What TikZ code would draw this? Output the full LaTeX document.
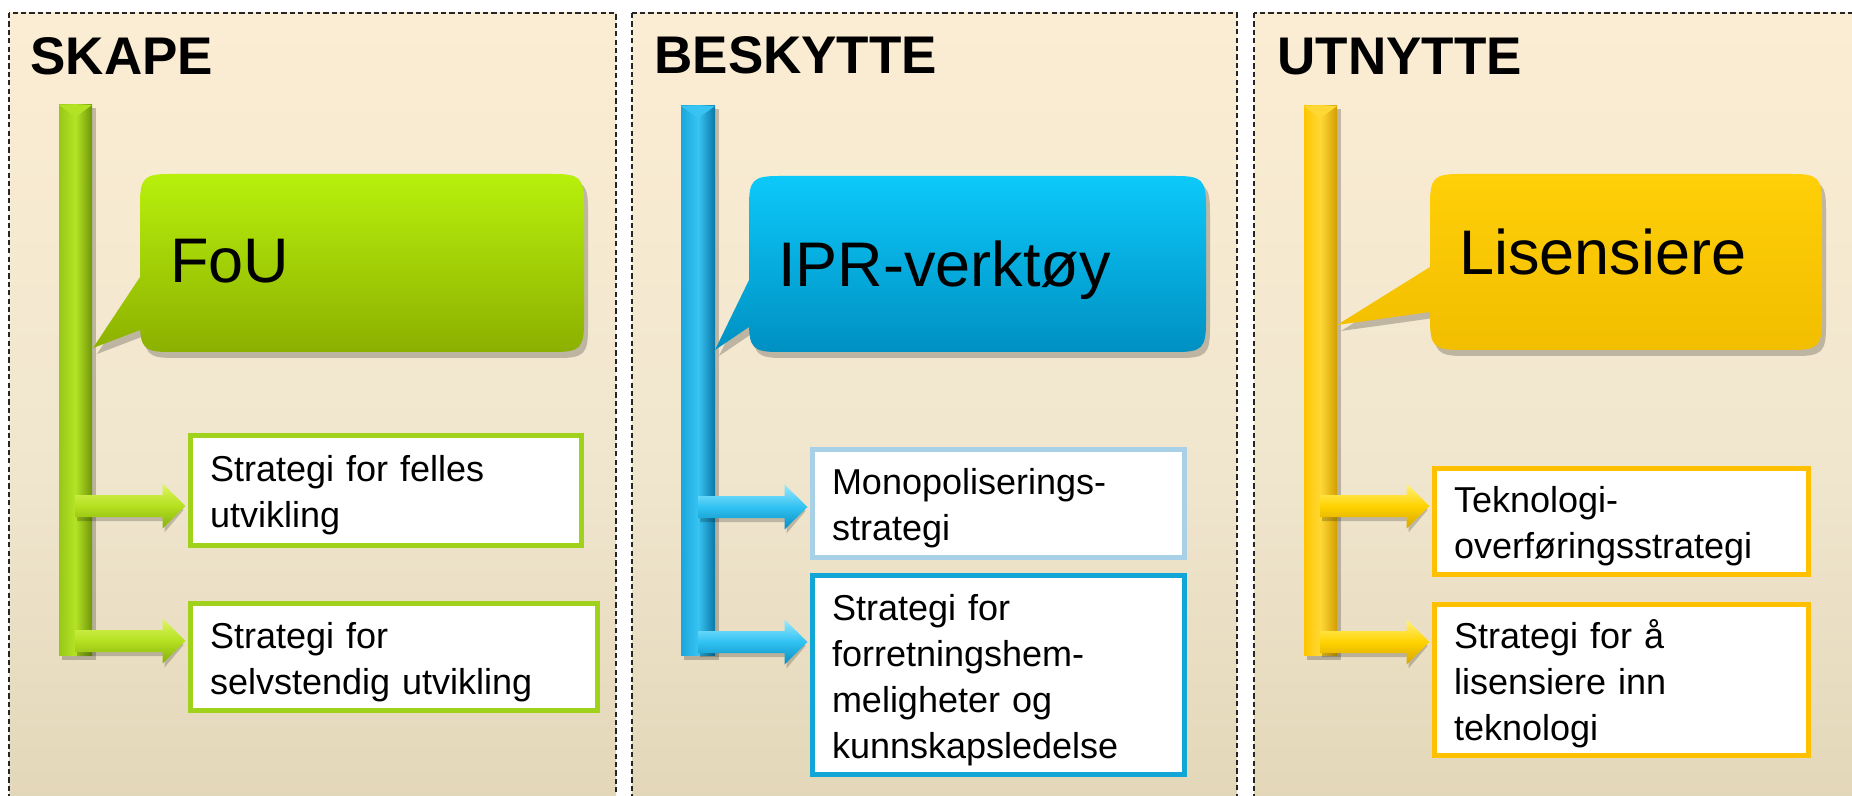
\documentclass[tikz,border=0pt]{standalone}
\usepackage{fontspec}
\setmainfont{Liberation Sans}
\usetikzlibrary{calc}

% panel background
\definecolor{bgA}{HTML}{D0C09B}
\definecolor{bgB}{HTML}{E4D8BA}
\definecolor{bgC}{HTML}{F0E6CE}
\definecolor{bgD}{HTML}{FBEDD3}
\definecolor{bgE}{HTML}{FCEDD2}
\pgfdeclareverticalshading{panelshade}{100bp}{color(0bp)=(bgA); color(28bp)=(bgB); color(47bp)=(bgC); color(75bp)=(bgD); color(100bp)=(bgE)}

% green column
\definecolor{gborder}{HTML}{A0D21C}
\definecolor{gcalltop}{HTML}{B8F00C}
\definecolor{gcallbot}{HTML}{8CB000}
\definecolor{gstemhi}{HTML}{B4E325}
\definecolor{gstemmid}{HTML}{98C817}
\definecolor{gstemlo}{HTML}{6F960A}
\definecolor{garrhi}{HTML}{DDF760}
\definecolor{garrmid}{HTML}{B4E020}
\definecolor{garrlo}{HTML}{86B00C}
% blue column
\definecolor{bborderA}{HTML}{A8D0E6}
\definecolor{bborderB}{HTML}{12A6D6}
\definecolor{bcalltop}{HTML}{0CC9FA}
\definecolor{bcallbot}{HTML}{0090C2}
\definecolor{bstemhi}{HTML}{38C4F2}
\definecolor{bstemmid}{HTML}{1AA6DC}
\definecolor{bstemlo}{HTML}{0A78A8}
\definecolor{barrhi}{HTML}{9AE8FF}
\definecolor{barrmid}{HTML}{30C2F2}
\definecolor{barrlo}{HTML}{0A8CC0}
% yellow column
\definecolor{yborder}{HTML}{FFC000}
\definecolor{ycalltop}{HTML}{FFCF08}
\definecolor{ycallbot}{HTML}{F2BE00}
\definecolor{ystemhi}{HTML}{FFD836}
\definecolor{ystemmid}{HTML}{FFC600}
\definecolor{ystemlo}{HTML}{D29E00}
\definecolor{yarrhi}{HTML}{FFF27A}
\definecolor{yarrmid}{HTML}{FFD200}
\definecolor{yarrlo}{HTML}{D6A600}

\newcommand{\boxfont}{\fontsize{18}{23}\selectfont}

% rounded speech bubble: style, x0, y0, x1, y1, pointer base top, pointer base bottom, tip x, tip y
\newcommand{\drawbubble}[9][]{%
  \path[#1] (#2,#7) -- (#2,{#5-30}) .. controls (#2,{#5-4}) and ({#2+4},#5) .. ({#2+30},#5)
    -- ({#4-30},#5) .. controls ({#4-4},#5) and (#4,{#5-4}) .. (#4,{#5-30})
    -- (#4,{#3+30}) .. controls (#4,{#3+4}) and ({#4-4},#3) .. ({#4-30},#3)
    -- ({#2+30},#3) .. controls ({#2+4},#3) and (#2,{#3+4}) .. (#2,{#3+30})
    -- (#2,#6) -- (#8,#9) -- cycle;}

% vertical stem: x0, x1, top, bottom, colour prefix
\newcommand{\drawstem}[5]{%
  \fill[black,opacity=.22] ({#1+3},{#3+3}) rectangle ({#2+4},{#4+5});
  \path[left color=#5stemmid, right color=#5stemlo, middle color=#5stemhi] (#1,#3) rectangle (#2,#4);
  \fill[#5stemhi] (#1,#3) -- (#2,#3) -- ({(#1+#2)/2},{#3+12}) -- cycle;}

% block arrow from a stem coordinate to a box: start, target node, colour prefix
\newcommand{\blockarrow}[3]{%
  \fill[black,opacity=.2]
    ($(#1)+(2,-7)$) -- ($(#1 -| #2.west)+(-23.5,-7)$) -- ($(#1 -| #2.west)+(-23.5,-18.5)$)
    -- ($(#1 -| #2.west)+(-4.5,4)$) -- ($(#1 -| #2.west)+(-23.5,26.5)$)
    -- ($(#1 -| #2.west)+(-23.5,15)$) -- ($(#1)+(2,15)$) -- cycle;
  \path[top color=#3arrhi, bottom color=#3arrlo, middle color=#3arrmid]
    ($(#1)+(0,-11)$) -- ($(#1 -| #2.west)+(-25.5,-11)$) -- ($(#1 -| #2.west)+(-25.5,-22.5)$)
    -- ($(#1 -| #2.west)+(-2.5,0)$) -- ($(#1 -| #2.west)+(-25.5,22.5)$)
    -- ($(#1 -| #2.west)+(-25.5,11)$) -- ($(#1)+(0,11)$) -- cycle;}

\tikzset{
  panel/.style={shading=panelshade, draw=black!85, line width=0.75pt, dash pattern=on 2.6pt off 1.6pt},
  head/.style={font=\bfseries\fontsize{26.5}{30}\selectfont, inner sep=0pt, anchor=base west},
  bubtext/.style={font=\fontsize{31.5}{36}\selectfont, inner sep=0pt, anchor=base west},
  sbox/.style={draw, fill=white, line width=2.5pt, inner xsep=9.75pt, inner ysep=0pt, align=left,
    font=\boxfont, execute at begin node={\rule{0pt}{18pt}}},
  bubshadow/.style={fill=black, opacity=.22, shift={(4,6)}}
}

\begin{document}
\begin{tikzpicture}[x=0.5pt,y=-0.5pt]
\useasboundingbox (0,0) rectangle (1852,796);
\fill[white] (0,0) rectangle (1852,796);
\begin{scope}
\clip (0,0) rectangle (1852,796);

% three panels
\shadedraw[panel] (9,13) rectangle (616,830);
\shadedraw[panel] (632,13) rectangle (1237,830);
\shadedraw[panel] (1254,13) rectangle (1900,830);

% headings
\node[head] (h1) at (30,75) {SKAPE};
\node[head] (h2) at (654,74) {BESKYTTE};
\node[head] (h3) at (1277,75) {UTNYTTE};

% stems
\drawstem{59}{92}{105}{655}{g}
\drawstem{681}{715}{106}{655}{b}
\drawstem{1304}{1337}{106}{655}{y}

% speech bubbles
\drawbubble[bubshadow]{140}{174}{584}{352}{277}{330}{93}{348}
\drawbubble[top color=gcalltop, bottom color=gcallbot]{140}{174}{584}{352}{277}{330}{93}{348}
\drawbubble[bubshadow]{749}{176}{1206}{352}{280}{327}{715}{350}
\drawbubble[top color=bcalltop, bottom color=bcallbot]{749}{176}{1206}{352}{280}{327}{715}{350}
\drawbubble[bubshadow]{1430}{174}{1822}{350}{267}{312}{1337}{325}
\drawbubble[top color=ycalltop, bottom color=ycallbot]{1430}{174}{1822}{350}{267}{312}{1337}{325}

\node[bubtext] (t1) at (170,283) {FoU};
\node[bubtext] (t2) at (778,287) {IPR-verktøy};
\node[bubtext] (t3) at (1459,275) {Lisensiere};

% strategy boxes
\node[sbox, draw=gborder, minimum width=195.5pt, minimum height=55pt, text width=176pt] (s1a) at (386,490.5) {Strategi for felles\\utvikling};
\node[sbox, draw=gborder, minimum width=203.5pt, minimum height=53.5pt, text width=184pt] (s1b) at (394,657) {Strategi for\\selvstendig utvikling};
\node[sbox, draw=bborderA, minimum width=186pt, minimum height=54pt, text width=166.5pt] (s2a) at (998.5,503.5) {Monopoliserings-\\strategi};
\node[sbox, draw=bborderB, minimum width=186pt, minimum height=99.5pt, text width=166.5pt] (s2b) at (998.5,675) {Strategi for\\forretningshem-\\meligheter og\\kunnskapsledelse};
\node[sbox, draw=yborder, minimum width=187pt, minimum height=53pt, text width=167.5pt] (s3a) at (1621.5,521.5) {Teknologi-\\overføringsstrategi};
\node[sbox, draw=yborder, minimum width=187pt, minimum height=75.5pt, text width=167.5pt] (s3b) at (1621.5,680) {Strategi for å\\lisensiere inn\\teknologi};

% arrows from the stems to the boxes
\coordinate (g1) at (75,506);
\coordinate (g2) at (75,641);
\coordinate (b1) at (698,507);
\coordinate (b2) at (698,642);
\coordinate (y1) at (1320,506);
\coordinate (y2) at (1320,642);
\blockarrow{g1}{s1a}{g}
\blockarrow{g2}{s1b}{g}
\blockarrow{b1}{s2a}{b}
\blockarrow{b2}{s2b}{b}
\blockarrow{y1}{s3a}{y}
\blockarrow{y2}{s3b}{y}
\end{scope}
\end{tikzpicture}
\end{document}
